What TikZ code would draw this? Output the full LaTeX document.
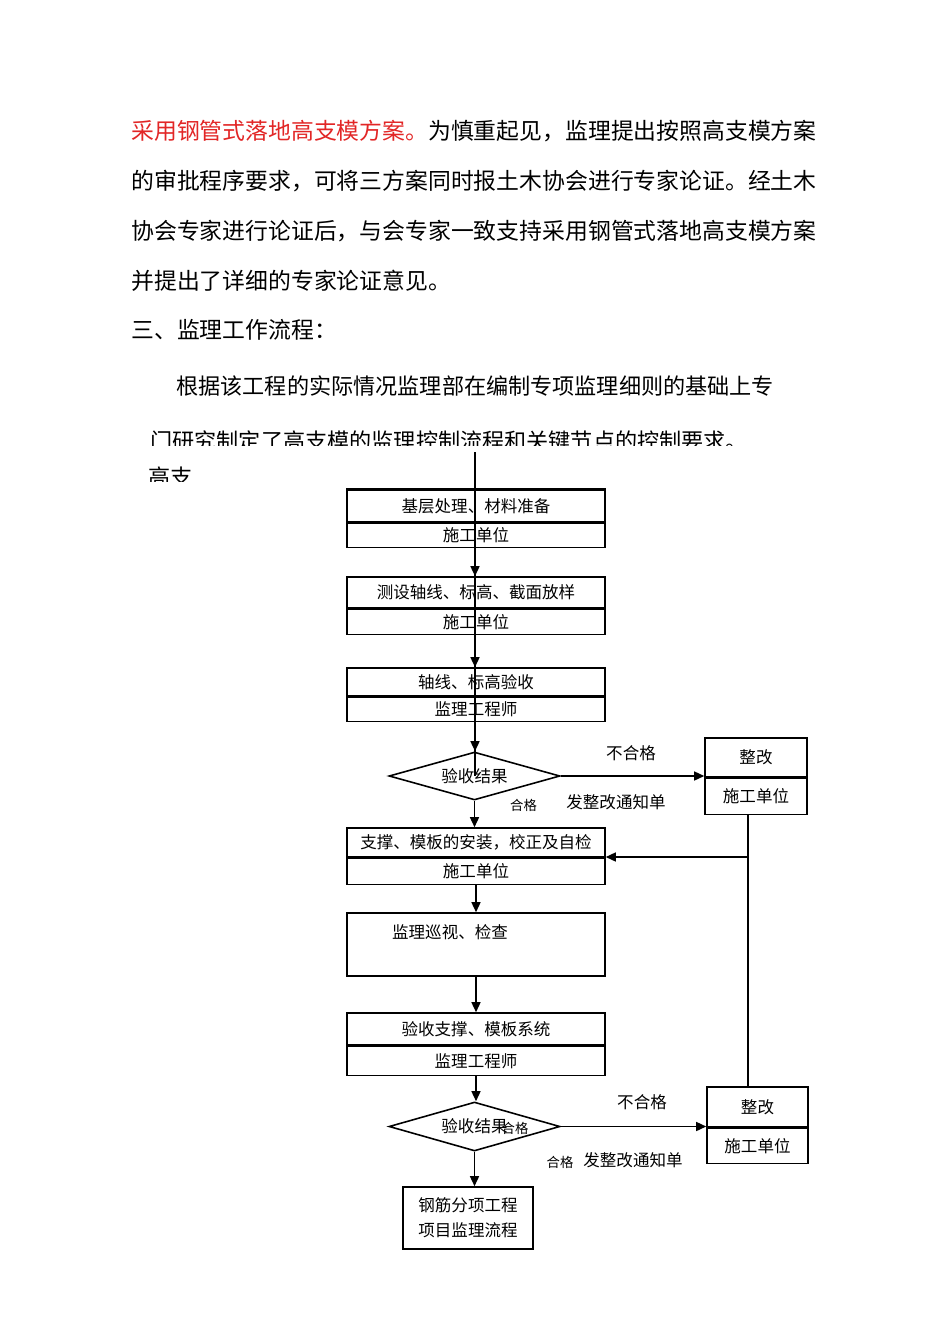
\documentclass[tikz,border=0pt]{standalone}
\usepackage{fontspec}
\setmainfont{Noto Sans CJK SC}
\usepackage{xcolor}
\usepackage{tikz}
\usetikzlibrary{shapes.geometric, arrows.meta, positioning, calc}
\definecolor{notered}{RGB}{226,38,38}

\begin{document}
\begin{tikzpicture}[x=0.02cm, y=-0.02cm,
    bodyline/.style={anchor=west, inner sep=0pt, font=\fontsize{13}{15}\selectfont},
    smallline/.style={anchor=west, inner sep=0pt, font=\fontsize{12.6}{15}\selectfont},
    stepbox/.style={draw, line width=0.9pt, inner sep=0pt, minimum width=5.16cm, font=\fontsize{9.4}{11}\selectfont},
    fixbox/.style={draw, line width=0.9pt, inner sep=0pt, font=\fontsize{9.4}{11}\selectfont},
    check/.style={draw, diamond, aspect=3.5, line width=0.9pt, inner sep=0pt, minimum width=3.42cm, minimum height=0.96cm, font=\fontsize{9.4}{11}\selectfont},
    tag/.style={inner sep=0pt, font=\fontsize{9.4}{11}\selectfont},
    smalltag/.style={inner sep=0pt, font=\fontsize{7.6}{9}\selectfont},
    flow/.style={line width=0.8pt, -{Triangle[length=2mm, width=1.8mm]}},
    link/.style={line width=0.8pt}]

    \useasboundingbox[fill=white] (0,0) rectangle (950,1344);

    % Running text
    \node[bodyline] (p1) at (131,131) {{\color{notered}采用钢管式落地高支模方案。}为慎重起见，监理提出按照高支模方案};
    \node[bodyline] (p2) at (131,181) {的审批程序要求，可将三方案同时报土木协会进行专家论证。经土木};
    \node[bodyline] (p3) at (131,231) {协会专家进行论证后，与会专家一致支持采用钢管式落地高支模方案};
    \node[bodyline] (p4) at (131,281) {并提出了详细的专家论证意见。};
    \node[bodyline] (p5) at (131,330) {三、监理工作流程：};
    \node[smallline] (p6) at (176,386) {根据该工程的实际情况监理部在编制专项监理细则的基础上专};

    \begin{scope}% cut-off lines
        \clip (140,420) rectangle (760,445);
        \node[smallline] (p7) at (150,441) {门研究制定了高支模的监理控制流程和关键节点的控制要求。};
    \end{scope}
    \begin{scope}
        \clip (140,460) rectangle (200,481);
        \node[smallline] (p8) at (148,477) {高支};
    \end{scope}

    % Main column
    \node[stepbox, minimum height=0.64cm] (b1) at (476,506) {基层处理、材料准备};
    \node[stepbox, minimum height=0.48cm, below=0pt of b1] (b1u) {施工单位};
    \draw[line width=1.6pt] (b1.north west) -- (b1.north east);

    \node[stepbox, minimum height=0.62cm] (b2) at (476,592.5) {测设轴线、标高、截面放样};
    \node[stepbox, minimum height=0.5cm, below=0pt of b2] (b2u) {施工单位};

    \node[stepbox, minimum height=0.56cm] (b3) at (476,682) {轴线、标高验收};
    \node[stepbox, minimum height=0.48cm, below=0pt of b3] (b3u) {监理工程师};

    \node[check] (d1) at (474.5,776) {\raisebox{-2pt}{验收结果}};

    \node[stepbox, minimum height=0.58cm] (b4) at (476,842.5) {支撑、模板的安装，校正及自检};
    \node[stepbox, minimum height=0.52cm, below=0pt of b4] (b4u) {施工单位};

    \node[stepbox, minimum height=1.26cm] (b5) at (476,944.5) {};
    \node[tag] (b5t) at (450,932) {监理巡视、检查};

    \node[stepbox, minimum height=0.64cm] (b6) at (476,1029) {验收支撑、模板系统};
    \node[stepbox, minimum height=0.58cm, below=0pt of b6] (b6u) {监理工程师};

    \node[check, minimum height=0.98cm] (d2) at (474.5,1126.5) {\raisebox{-2pt}{验收结果}};
    \node[smalltag] (ok2b) at (515,1128) {合格};

    \node[fixbox, minimum width=2.6cm, minimum height=1.24cm, align=center,
          font=\fontsize{9.4}{14.2}\selectfont] (b7) at (468,1218) {钢筋分项工程\\项目监理流程};

    % Rework boxes
    \node[fixbox, minimum width=2.04cm, minimum height=0.78cm] (r1) at (756,757.5) {整改};
    \node[fixbox, minimum width=2.04cm, minimum height=0.72cm, below=0pt of r1] (r1u) {施工单位};

    \node[fixbox, minimum width=2.02cm, minimum height=0.8cm] (r2) at (757.5,1107) {整改};
    \node[fixbox, minimum width=2.02cm, minimum height=0.7cm, below=0pt of r2] (r2u) {施工单位};

    % Connectors
    \coordinate (top) at (475,452);
    \draw[link] (top) -- (top |- d1.center);
    \draw[flow] (top |- b1u.south) -- (top |- b2.north);
    \draw[flow] (top |- b2u.south) -- (top |- b3.north);
    \draw[flow] (top |- b3u.south) -- (top |- d1.north);

    \draw[flow] (d1.south) -- (d1.south |- b4.north);
    \draw[flow] (d1.east) -- (d1.east -| r1.west);

    \coordinate (j1) at (748,857);
    \draw[link] (j1 |- r1u.south) -- (j1 |- r2.north);
    \draw[flow] (j1) -- (j1 -| b4.east);

    \draw[flow] (b4u.south) -- (b5.north);
    \draw[flow] (b5.south) -- (b6.north);
    \draw[flow] (b6u.south) -- (b6u.south |- d2.north);
    \draw[flow] (d2.east) -- (d2.east -| r2.west);
    \draw[flow] (d2.south) -- (d2.south |- b7.north);

    % Branch labels
    \node[tag] (no1) at (631,753) {不合格};
    \node[tag] (notice1) at (616,802) {发整改通知单};
    \node[smalltag] (ok1) at (523.5,805) {合格};
    \node[tag] (no2) at (642,1102) {不合格};
    \node[tag] (notice2) at (633,1160) {发整改通知单};
    \node[smalltag] (ok2) at (560,1162) {合格};
\end{tikzpicture}
\end{document}
